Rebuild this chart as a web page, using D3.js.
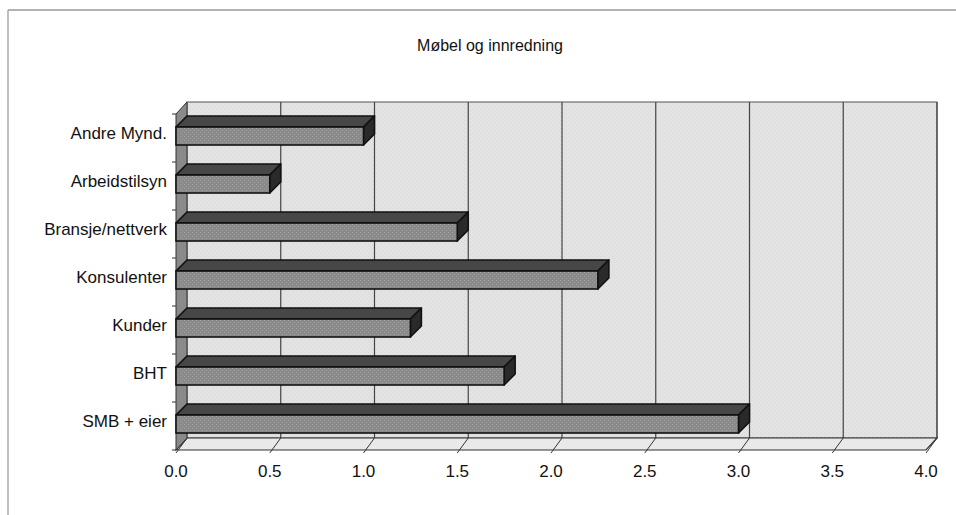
<!DOCTYPE html>
<html>
<head>
<meta charset="utf-8">
<script src="https://cdn.jsdelivr.net/npm/d3@7"></script>
<style>
  body { margin: 0; background: #fff; }
  text { font-family: "Liberation Sans", Arial, sans-serif; fill: #111; }
</style>
</head>
<body>
<div id="chart"></div>
<script>
// chart data, top to bottom
var categories = ["Andre Mynd.", "Arbeidstilsyn", "Bransje/nettverk", "Konsulenter", "Kunder", "BHT", "SMB + eier"];
var values = [1.0, 0.5, 1.5, 2.25, 1.25, 1.75, 3.0];
var tickValues = [0, 0.5, 1, 1.5, 2, 2.5, 3, 3.5, 4];
var title = "Møbel og innredning";

var svgWidth = 956;
var svgHeight = 515;

// 3D depth offset
var dx = 11, dy = -12;

var svg = d3.select("#chart")
  .append("svg")
  .attr("width", svgWidth)
  .attr("height", svgHeight);

// pattern to get the grainy look of the scan
var defs = svg.append("defs");
function grain(id, base, dot) {
  var p = defs.append("pattern")
    .attr("id", id)
    .attr("width", 4).attr("height", 4)
    .attr("patternUnits", "userSpaceOnUse");
  p.append("rect").attr("width", 4).attr("height", 4).attr("fill", base);
  p.append("rect").attr("x", 0).attr("y", 0).attr("width", 1).attr("height", 1).attr("fill", dot);
  p.append("rect").attr("x", 2).attr("y", 2).attr("width", 1).attr("height", 1).attr("fill", dot);
}
grain("wallFill", "#e3e3e3", "#d6d6d6");
grain("barFill", "#8a8a8a", "#9e9e9e");

// outer frame (only top and left visible in the scan)
svg.append("line").attr("x1", 8).attr("y1", 10).attr("x2", svgWidth).attr("y2", 10)
  .attr("stroke", "#999").attr("stroke-width", 1.5);
svg.append("line").attr("x1", 8).attr("y1", 10).attr("x2", 8).attr("y2", svgHeight)
  .attr("stroke", "#aaa").attr("stroke-width", 1.5);

svg.append("text")
  .attr("x", 490).attr("y", 51)
  .attr("text-anchor", "middle")
  .attr("font-size", "16px")
  .text(title);

// scales on the front plane
var x = d3.scaleLinear().domain([0, 4]).range([176, 926]);
var y = d3.scaleBand().domain(categories).range([114, 450]);

var x0 = x(0), x1 = x(4), yTop = y.range()[0], yBot = y.range()[1];

function pts(arr) { return arr.map(function(p) { return p.join(","); }).join(" "); }

// back wall
svg.append("rect")
  .attr("x", x0 + dx).attr("y", yTop + dy)
  .attr("width", x1 - x0).attr("height", yBot - yTop)
  .attr("fill", "url(#wallFill)")
  .attr("stroke", "#555").attr("stroke-width", 1);

// gridlines on the back wall
svg.selectAll(".grid")
  .data(tickValues.slice(1))
  .enter()
  .append("line")
  .attr("class", "grid")
  .attr("x1", d => x(d) + dx).attr("x2", d => x(d) + dx)
  .attr("y1", yTop + dy).attr("y2", yBot + dy)
  .attr("stroke", "#444").attr("stroke-width", 1.2);

// floor
svg.append("polygon")
  .attr("points", pts([[x0, yBot], [x1, yBot], [x1 + dx, yBot + dy], [x0 + dx, yBot + dy]]))
  .attr("fill", "#e9e9e9")
  .attr("stroke", "#333").attr("stroke-width", 1.2);

svg.selectAll(".floorline")
  .data(tickValues)
  .enter()
  .append("line")
  .attr("class", "floorline")
  .attr("x1", d => x(d)).attr("y1", yBot + 3)
  .attr("x2", d => x(d) + dx).attr("y2", yBot + dy)
  .attr("stroke", "#333").attr("stroke-width", 1);

// left side wall
svg.append("polygon")
  .attr("points", pts([[x0, yTop], [x0 + dx, yTop + dy], [x0 + dx, yBot + dy], [x0, yBot]]))
  .attr("fill", "#8a8a8a")
  .attr("stroke", "#333").attr("stroke-width", 1);

// category ticks on the left
var bounds = categories.map(d => y(d)).concat([yBot]);
svg.selectAll(".ytick")
  .data(bounds)
  .enter()
  .append("line")
  .attr("class", "ytick")
  .attr("x1", x0 - 4).attr("x2", x0)
  .attr("y1", d => d).attr("y2", d => d)
  .attr("stroke", "#333");

// bars
var barTop = 13, barH = 18;
var bars = svg.selectAll(".bar")
  .data(categories.map(function(c, i) { return { cat: c, value: values[i] }; }))
  .enter()
  .append("g")
  .attr("class", "bar");

// top face
bars.append("polygon")
  .attr("points", function(d) {
    var yy = y(d.cat) + barTop;
    return pts([[x0, yy], [x(d.value), yy], [x(d.value) + dx, yy + dy + 1], [x0 + dx, yy + dy + 1]]);
  })
  .attr("fill", "#474747")
  .attr("stroke", "#111").attr("stroke-width", 1.6).attr("stroke-linejoin", "round");

// right face
bars.append("polygon")
  .attr("points", function(d) {
    var yy = y(d.cat) + barTop, xv = x(d.value);
    return pts([[xv, yy], [xv + dx, yy + dy + 1], [xv + dx, yy + dy + 1 + barH], [xv, yy + barH]]);
  })
  .attr("fill", "#2a2a2a")
  .attr("stroke", "#111").attr("stroke-width", 1.6).attr("stroke-linejoin", "round");

// front face
bars.append("rect")
  .attr("x", x0)
  .attr("y", d => y(d.cat) + barTop)
  .attr("width", d => x(d.value) - x0)
  .attr("height", barH)
  .attr("fill", "url(#barFill)")
  .attr("stroke", "#111").attr("stroke-width", 1.6);

// category labels
svg.selectAll(".ylabel")
  .data(categories)
  .enter()
  .append("text")
  .attr("class", "ylabel")
  .attr("x", 167)
  .attr("y", d => y(d) + y.bandwidth() / 2 + 1)
  .attr("text-anchor", "end")
  .attr("font-size", "17px")
  .text(d => d);

// value axis labels
svg.selectAll(".xlabel")
  .data(tickValues)
  .enter()
  .append("text")
  .attr("class", "xlabel")
  .attr("x", d => x(d))
  .attr("y", 477)
  .attr("text-anchor", "middle")
  .attr("font-size", "17px")
  .text(d => d.toFixed(1));
</script>
</body>
</html>
